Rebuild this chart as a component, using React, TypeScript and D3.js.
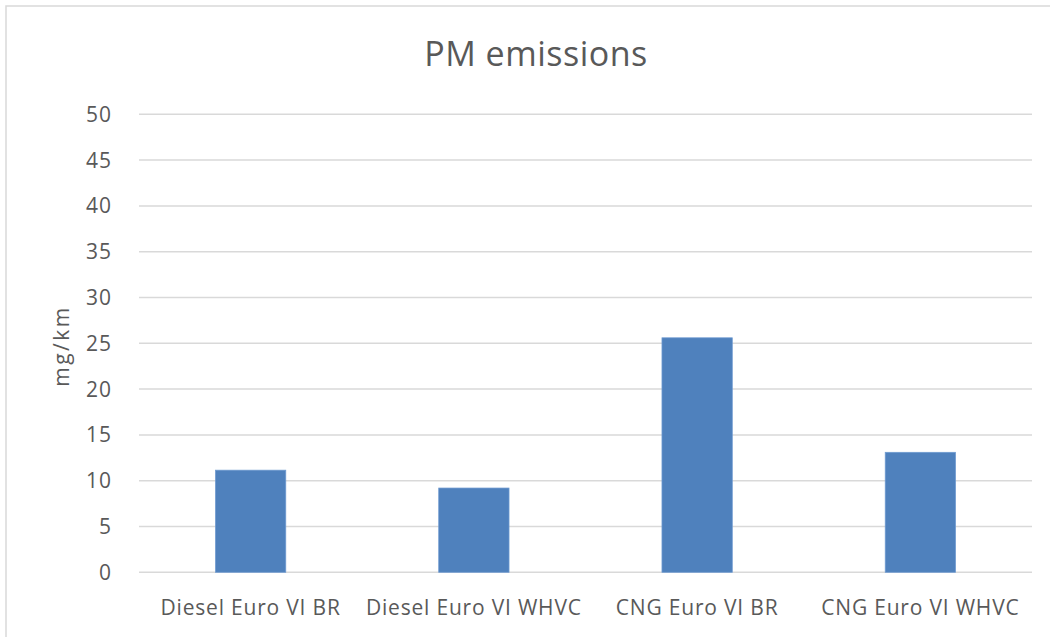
import React from "react";
import * as d3 from "d3";

const categories = ["Diesel Euro VI BR", "Diesel Euro VI WHVC", "CNG Euro VI BR", "CNG Euro VI WHVC"];
const values = [11.15, 9.2, 25.6, 13.1];
const yTicks = [0, 5, 10, 15, 20, 25, 30, 35, 40, 45, 50];
const title = "PM emissions";
const yLabel = "mg/km";

export default function App() {
  const W = 1050, H = 637;
  const left = 139, right = 1032, top = 114.3, bottom = 572.3;
  const x = d3.scaleBand<string>().domain(categories).range([left, right]).paddingInner(0.685).paddingOuter(0.3425);
  const y = d3.scaleLinear().domain([0, 50]).range([bottom, top]);
  const font = "'Open Sans', sans-serif";
  const textColor = "#595959";
  return (
    <svg width={W} height={H} style={{ position: "absolute", left: 0, top: 0, background: "#fff" }}>
      <rect x={6} y={6} width={W + 20} height={H + 20} fill="#fff" stroke="#d9d9d9" strokeWidth={1.5} />
      <text x={536} y={66} textAnchor="middle" fontFamily={font} fontSize={34} letterSpacing={0.5} fill={textColor}>{title}</text>
      {yTicks.map(t => (
        <g key={t}>
          <line x1={left} x2={right} y1={y(t)} y2={y(t)} stroke="#d9d9d9" strokeWidth={1.5} />
          <text x={112} y={y(t) + 7.5} textAnchor="end" fontFamily={font} fontSize={21} letterSpacing={1} fill={textColor}>{t}</text>
        </g>
      ))}
      {categories.map((c, i) => (
        <rect key={c} x={x(c)!} y={y(values[i])} width={x.bandwidth()} height={y(0) - y(values[i])}
          fill="#4f81bd" stroke="#6f9bd1" strokeWidth={0.75} />
      ))}
      {categories.map(c => (
        <text key={c} x={x(c)! + x.bandwidth() / 2} y={615} textAnchor="middle" fontFamily={font} fontSize={21} letterSpacing={0.8} fill={textColor}>{c}</text>
      ))}
      <text transform={`translate(69,346) rotate(-90)`} textAnchor="middle" fontFamily={font} fontSize={21} letterSpacing={2.5} fill={textColor}>{yLabel}</text>
    </svg>
  );
}
